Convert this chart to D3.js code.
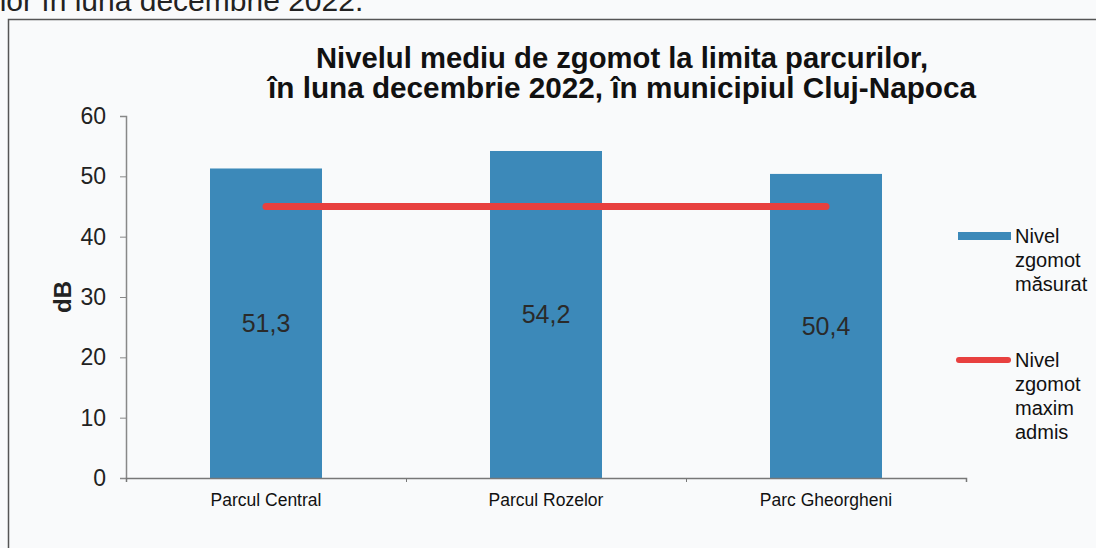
<!DOCTYPE html>
<html>
<head>
<meta charset="utf-8">
<script src="https://cdn.jsdelivr.net/npm/d3@7"></script>
<style>
  body { margin: 0; background: #f9fafb; }
  svg { display: block; }
  text { font-family: "Liberation Sans", Arial, sans-serif; }
</style>
</head>
<body>
<div id="chart"></div>
<script>
// data
var parks = ["Parcul Central", "Parcul Rozelor", "Parc Gheorgheni"];
var measured = [51.3, 54.2, 50.4];
var maxAllowed = [45, 45, 45];
var yTicks = [0, 10, 20, 30, 40, 50, 60];
var titleLines = ["Nivelul mediu de zgomot la limita parcurilor,",
                  "în luna  decembrie 2022, în municipiul Cluj-Napoca"];
var legendBar = ["Nivel", "zgomot", "măsurat"];
var legendLine = ["Nivel", "zgomot", "maxim", "admis"];

var W = 1096, H = 548;
var margin = { top: 116, left: 126, bottom: 70 };
var plotW = 840;
var plotH = 478 - margin.top;

var svg = d3.select('#chart')
  .append('svg')
  .attr('width', W)
  .attr('height', H);

// piece of the page text cut off at the top
svg.append('text')
  .attr('x', -7)
  .attr('y', 11)
  .style('font-size', '30px')
  .style('fill', '#222')
  .text('ilor în luna decembrie 2022.');

// frame of the figure
svg.append('path')
  .attr('d', 'M8.5,' + H + 'V19.5H' + W)
  .attr('fill', 'none')
  .attr('stroke', '#555')
  .attr('stroke-width', 1.5);

// title (condensed in the original, so stretch to its width)
var titleWidths = [612, 708];
svg.append('text')
  .attr('text-anchor', 'middle')
  .style('font-weight', 'bold')
  .style('font-size', '29px')
  .style('fill', '#111')
  .selectAll('tspan')
  .data(titleLines)
  .enter().append('tspan')
  .attr('x', 622)
  .attr('y', (d, i) => 68 + i * 30)
  .attr('textLength', (d, i) => titleWidths[i])
  .attr('lengthAdjust', 'spacingAndGlyphs')
  .text(d => d);

var g = svg.append('g')
  .attr('transform', 'translate(' + margin.left + ',' + margin.top + ')');

var xScale = d3.scaleBand().domain(parks).range([0, plotW]).paddingInner(0.6).paddingOuter(0.3);
var xEdges = d3.scaleLinear().domain([0, parks.length]).range([0, plotW]);
var yScale = d3.scaleLinear().domain([0, 60]).range([plotH, 0]);

// bars
g.selectAll('.bar')
  .data(measured)
  .enter().append('rect')
  .attr('class', 'bar')
  .attr('x', (d, i) => xScale(parks[i]))
  .attr('width', xScale.bandwidth())
  .attr('y', d => yScale(d))
  .attr('height', d => plotH - yScale(d))
  .attr('fill', '#3c89b9');

// value labels
g.selectAll('.val')
  .data(measured)
  .enter().append('text')
  .attr('class', 'val')
  .attr('x', (d, i) => xScale(parks[i]) + xScale.bandwidth() / 2)
  .attr('y', d => (yScale(d) + plotH) / 2 + 9)
  .attr('text-anchor', 'middle')
  .style('font-size', '25px')
  .style('fill', '#2a2a2a')
  .text(d => String(d).replace('.', ','));

// y axis
var yAxis = g.append('g')
  .call(d3.axisLeft(yScale).tickValues(yTicks).tickSize(6).tickPadding(14));
yAxis.select('.domain').attr('stroke', '#888').attr('stroke-width', 1.5);
yAxis.selectAll('.tick line').attr('stroke', '#888');
yAxis.selectAll('.tick text').style('font-size', '23px').style('fill', '#222');

// x axis
var xAxis = g.append('g')
  .attr('transform', 'translate(0,' + plotH + ')')
  .call(d3.axisBottom(xEdges).ticks(parks.length).tickSize(4).tickFormat(''));
xAxis.select('.domain').attr('stroke', '#777').attr('stroke-width', 1.5);
xAxis.selectAll('.tick line').attr('stroke', '#777');

g.selectAll('.cat')
  .data(parks)
  .enter().append('text')
  .attr('class', 'cat')
  .attr('x', d => xScale(d) + xScale.bandwidth() / 2)
  .attr('y', plotH + 28)
  .attr('text-anchor', 'middle')
  .style('font-size', '17.5px')
  .style('fill', '#111')
  .text(d => d);

// axis label
g.append('text')
  .attr('transform', 'rotate(-90)')
  .attr('x', -yScale(30))
  .attr('y', -55)
  .attr('text-anchor', 'middle')
  .style('font-size', '24px')
  .style('font-weight', 'bold')
  .style('fill', '#222')
  .text('dB');

// max allowed line, from first to last category centre
var line = d3.line()
  .x((d, i) => xScale(parks[i]) + xScale.bandwidth() / 2)
  .y(d => yScale(d));
g.append('path')
  .datum(maxAllowed)
  .attr('d', line)
  .attr('fill', 'none')
  .attr('stroke', '#e8403f')
  .attr('stroke-width', 7)
  .attr('stroke-linecap', 'round');

// legend
var leg = svg.append('g');
leg.append('rect')
  .attr('x', 958).attr('y', 232)
  .attr('width', 53).attr('height', 8)
  .attr('fill', '#3c89b9');
leg.append('text')
  .style('font-size', '20px')
  .style('fill', '#111')
  .selectAll('tspan')
  .data(legendBar)
  .enter().append('tspan')
  .attr('x', 1015)
  .attr('y', (d, i) => 243 + i * 24)
  .text(d => d);

leg.append('line')
  .attr('x1', 959).attr('x2', 1008)
  .attr('y1', 360).attr('y2', 360)
  .attr('stroke', '#e8403f')
  .attr('stroke-width', 6)
  .attr('stroke-linecap', 'round');
leg.append('text')
  .style('font-size', '20px')
  .style('fill', '#111')
  .selectAll('tspan')
  .data(legendLine)
  .enter().append('tspan')
  .attr('x', 1015)
  .attr('y', (d, i) => 367 + i * 24)
  .text(d => d);
</script>
</body>
</html>
